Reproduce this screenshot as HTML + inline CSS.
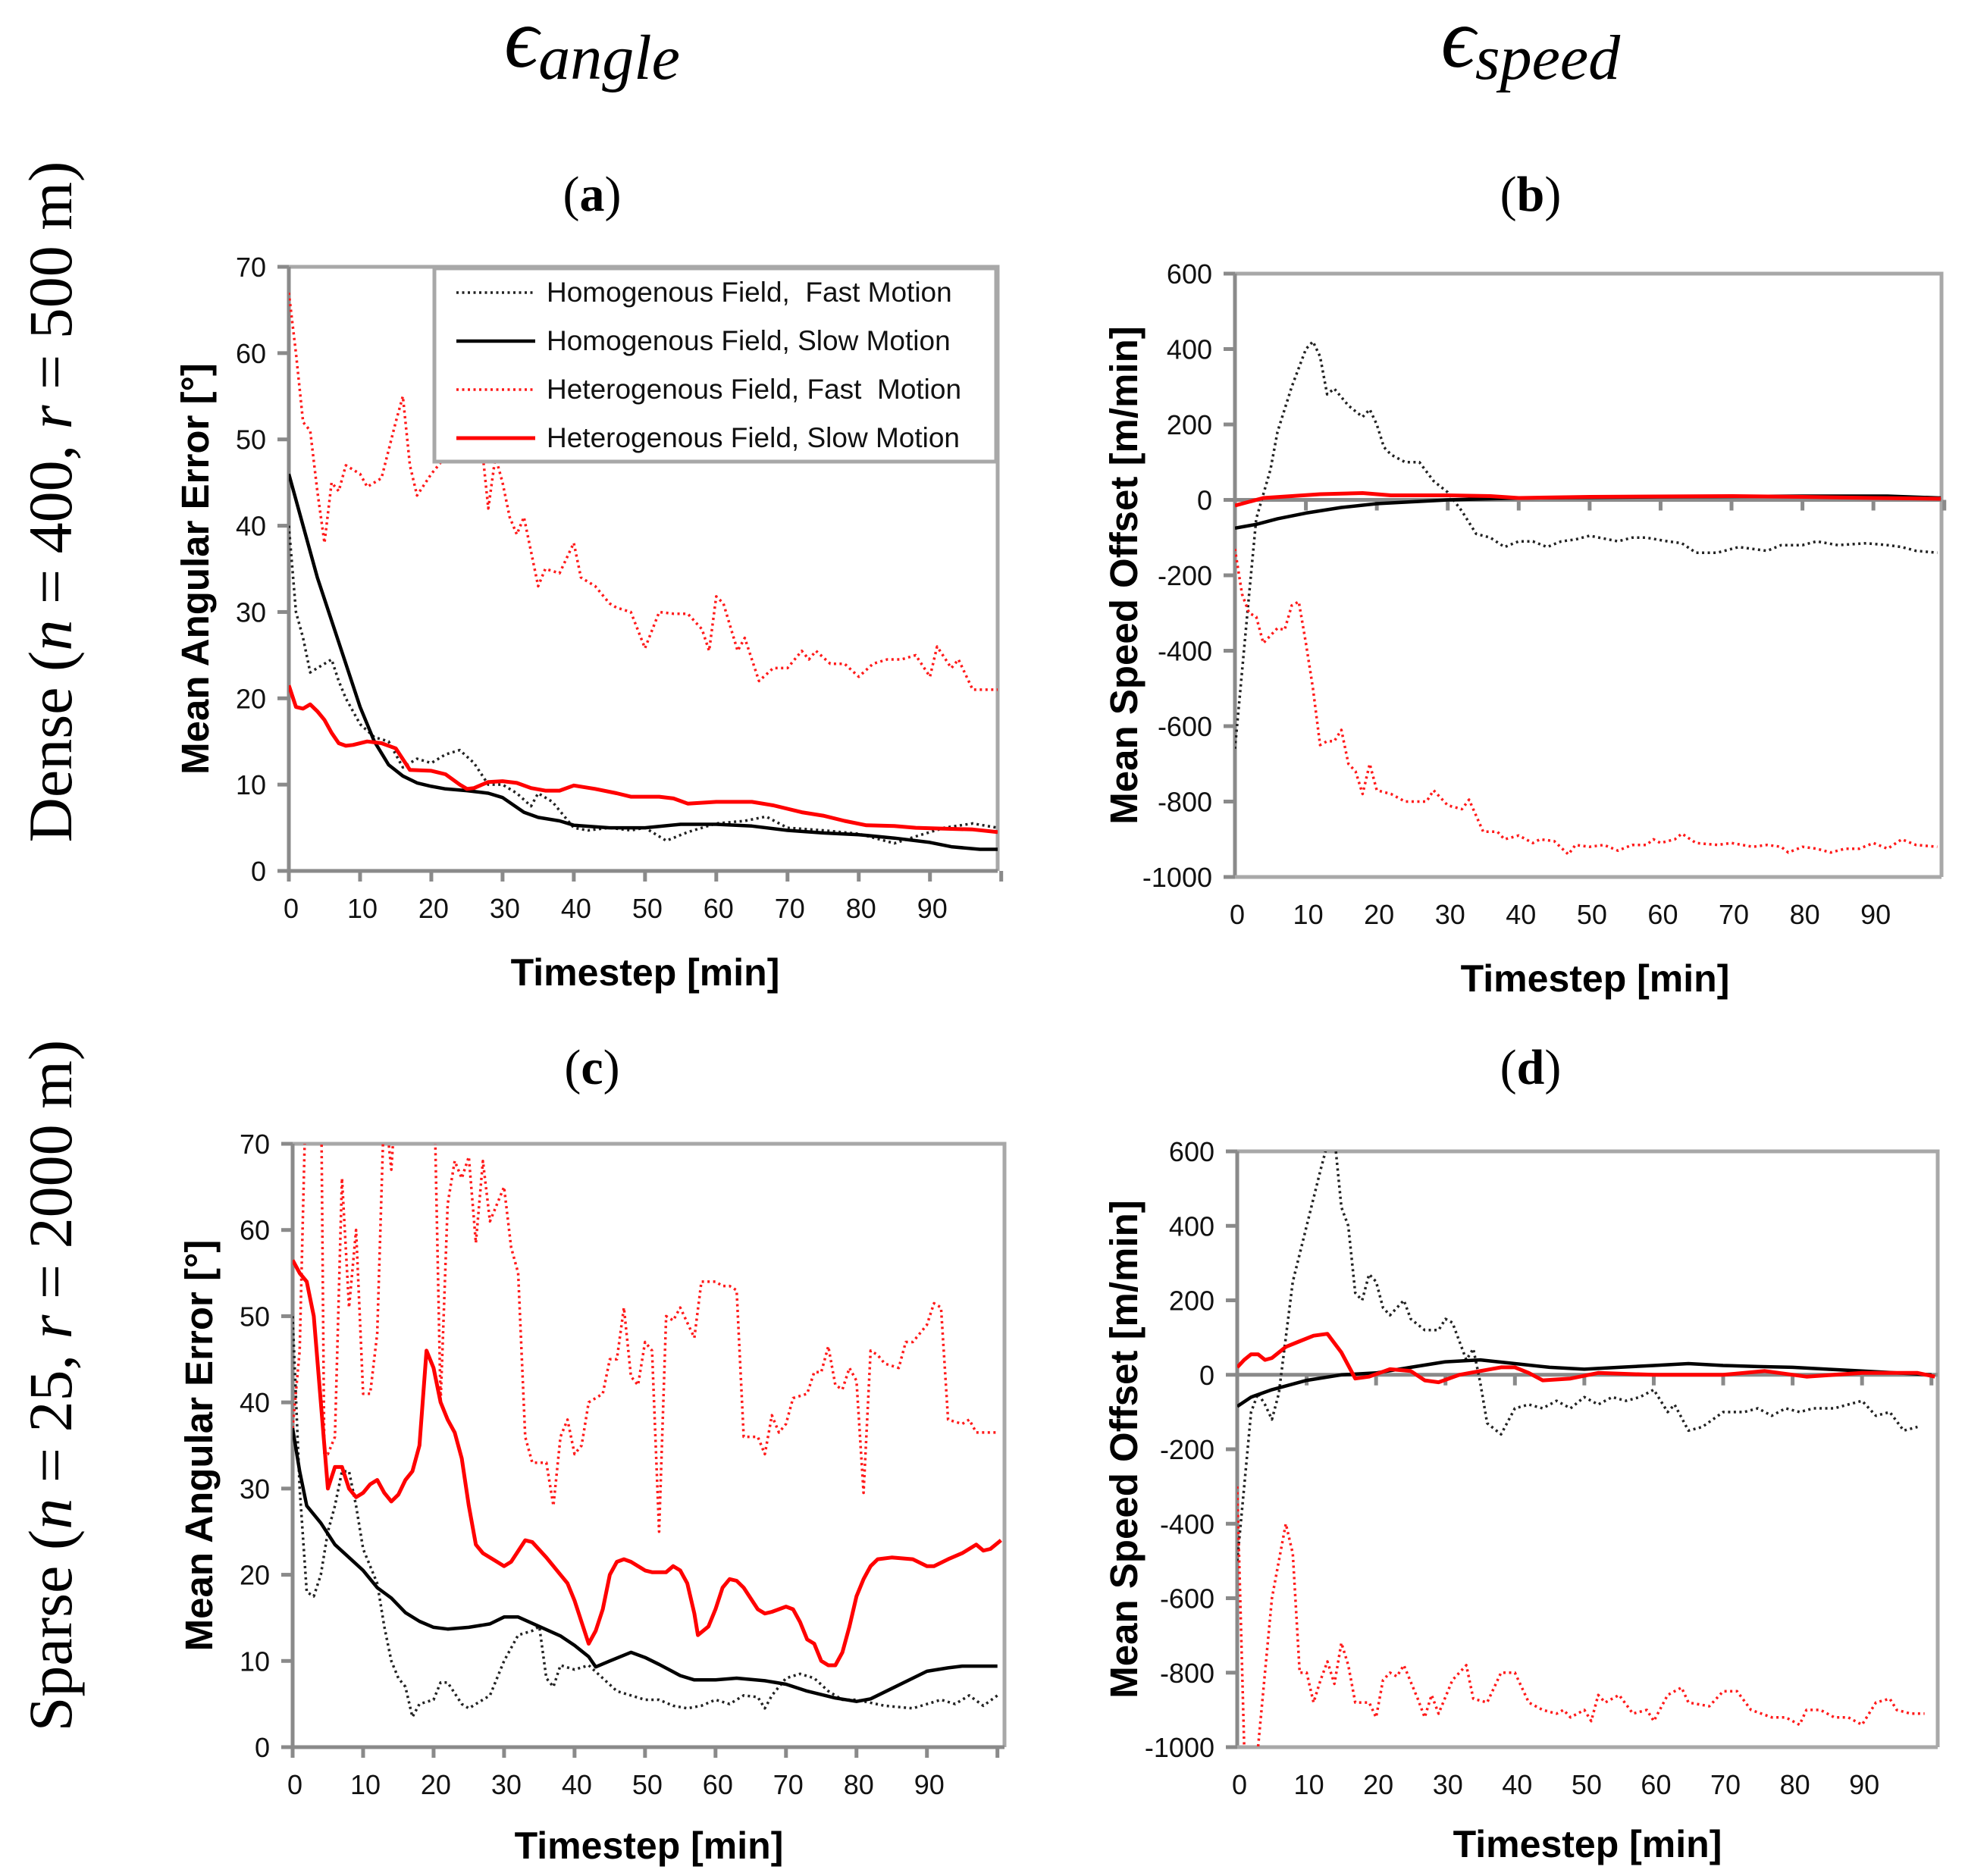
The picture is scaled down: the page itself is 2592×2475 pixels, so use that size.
<!DOCTYPE html>
<html><head><meta charset="utf-8"><style>
html,body{margin:0;padding:0;background:#fff;}
svg{display:block;}
text{font-family:"Liberation Sans",sans-serif;}
.serif{font-family:"Liberation Serif","DejaVu Serif",serif;}
</style></head><body>
<svg id="fig" width="2592" height="2475" viewBox="0 0 2592 2475" xmlns="http://www.w3.org/2000/svg">
<text class="serif" x="781" y="88" font-size="112" font-style="italic" text-anchor="middle">ϵ<tspan font-size="84" dy="16">angle</tspan></text>
<text class="serif" x="2019" y="88" font-size="112" font-style="italic" text-anchor="middle">ϵ<tspan font-size="84" dy="16">speed</tspan></text>
<text class="serif" x="781" y="278" font-size="66" text-anchor="middle">(<tspan font-weight="bold">a</tspan>)</text>
<text class="serif" x="2019" y="278" font-size="66" text-anchor="middle">(<tspan font-weight="bold">b</tspan>)</text>
<text class="serif" x="781" y="1430" font-size="66" text-anchor="middle">(<tspan font-weight="bold">c</tspan>)</text>
<text class="serif" x="2019" y="1430" font-size="66" text-anchor="middle">(<tspan font-weight="bold">d</tspan>)</text>
<text class="serif" transform="translate(94,662) rotate(-90)" font-size="82" text-anchor="middle">Dense (<tspan font-style="italic">n</tspan> = 400, <tspan font-style="italic">r</tspan> = 500 m)</text>
<text class="serif" transform="translate(94,1828) rotate(-90)" font-size="82" text-anchor="middle">Sparse (<tspan font-style="italic">n</tspan> = 25, <tspan font-style="italic">r</tspan> = 2000 m)</text>
<g id="panels"></g>
</svg>
<script>
// ---------- data ----------
// Panel (a)
const aHomFastX=[0,1,2,3,4,5,6,7,8,10,12,14,16,18,20,22,24,26,28,30,32,34,35,37,40,42,45,48,50,53,56,60,64,67,70,75,80,85,88,92,96,99.5];
const aHomFastY=[40,30,27,23,23.5,24,24.5,22,20,17,15.5,15,12,13,12.5,13.5,14,12.5,10,10,9,7.5,9,8,5,4.7,5,4.7,5,3.5,4.5,5.5,5.8,6.3,5,4.7,4.3,3.2,4,5,5.5,5];
const aHomSlowX=[0,2,4,6,8,10,12,14,16,18,20,22,25,28,30,33,35,38,40,45,50,55,60,65,70,75,80,85,90,93,97,99.5];
const aHomSlowY=[46,40,34,29,24,19,15,12.3,11,10.2,9.8,9.5,9.3,9,8.5,6.8,6.2,5.8,5.3,5,5,5.4,5.4,5.2,4.7,4.4,4.2,3.8,3.3,2.8,2.5,2.5];
const aHetFastX=[0,1,2,3,4,5,6,7,8,10,11,12,13,15,16,17,18,20,22,24,26,27,28,29,30,31,32,33,35,36,38,40,41,43,45,46,48,50,52,54,56,58,59,60,61,63,64,66,68,70,72,73,74,76,78,80,82,84,86,88,90,91,93,94,96,98,99.5];
const aHetFastY=[67,60,52,51,44,38,45,44,47,46,44.5,45,45.5,52,55,47,43.5,46,48,53,52,50,42,48,45,41,39,41,33,35,34.5,38,34,33,31,30.5,30,25.8,30,29.8,29.8,28,25.5,31.8,31,25.5,27,22,23.5,23.5,25.5,24.5,25.5,24,24,22.5,24,24.5,24.5,25,22.5,26,23.5,24.5,21,21,21];
const aHetSlowX=[0,1,2,3,4,5,6,7,8,9,11,13,15,17,20,22,24,25,26,28,30,32,34,36,38,40,43,46,48,52,54,56,60,65,68,72,75,78,81,85,88,92,96,99.5];
const aHetSlowY=[21.5,19,18.8,19.3,18.5,17.5,16,14.8,14.5,14.6,15,14.8,14.2,11.7,11.6,11.2,10,9.5,9.6,10.3,10.4,10.2,9.6,9.3,9.3,9.9,9.5,9,8.6,8.6,8.4,7.8,8,8,7.6,6.8,6.4,5.8,5.3,5.2,5,4.9,4.8,4.5];
// Panel (b)
const bHomFastX=[0,2,3,5,6,8,10,11,12,13,14,16,18,19,20,21,22,24,26,28,30,32,34,36,38,40,42,44,46,48,50,54,56,58,61,63,65,68,71,73,75,77,80,82,85,89,92,94,96,99];
const bHomFastY=[-660,-250,-50,80,180,300,400,420,380,280,295,250,220,240,200,140,120,100,100,50,20,-30,-90,-100,-125,-110,-110,-125,-110,-105,-95,-110,-100,-100,-110,-115,-140,-140,-125,-130,-135,-120,-120,-110,-120,-115,-120,-125,-135,-140];
const bHomSlowX=[0,3,6,10,15,20,25,30,40,60,80,92,99.5];
const bHomSlowY=[-75,-65,-50,-35,-20,-10,-5,0,5,8,10,10,5];
const bHetFastX=[0,1,2,3,4,6,7,8,9,10,11,12,13,14,15,16,17,18,19,20,22,24,27,28,30,32,33,35,37,38,40,42,43,45,47,48,50,52,54,56,58,59,60,62,63,65,68,70,73,75,77,78,80,82,84,86,88,90,92,94,96,99];
const bHetFastY=[-130,-250,-300,-310,-380,-340,-345,-280,-270,-380,-500,-650,-640,-640,-610,-700,-720,-780,-700,-770,-780,-800,-800,-770,-810,-820,-795,-880,-880,-900,-890,-910,-900,-905,-940,-915,-920,-915,-930,-915,-915,-900,-910,-900,-885,-910,-915,-910,-920,-915,-920,-935,-920,-925,-935,-925,-925,-910,-925,-900,-915,-920];
const bHetSlowX=[0,2,4,8,12,18,22,30,36,40,50,70,80,90,99.5];
const bHetSlowY=[-15,-5,5,10,15,18,12,12,10,5,8,10,8,5,3];
// Panel (c)
const cHomFastX=[0,1,2,3,4,5,6,7,8,9,10,12,13,14,15,16,17,18,20,21,22,24,25,26,28,30,32,34,35,36,37,38,40,42,44,46,48,50,52,54,56,58,60,62,64,66,67,68,70,72,74,76,78,80,84,88,92,94,96,98,100];
const cHomFastY=[50,30,18,17.5,20,25,28,32,32,28,23,19,14,10,8,7,3.5,5,5.5,7.5,7.5,5,4.5,5,6,10,13,13.5,14,8,7,9.5,9,9.5,8,6.5,6,5.5,5.5,4.8,4.5,4.8,5.5,5,6,5.8,4.5,6,8,8.5,8,6.5,5.5,5.5,4.8,4.5,5.5,5,6,4.8,6];
const cHomSlowX=[0,1,2,4,6,8,10,12,14,16,18,20,22,25,28,30,32,35,38,40,42,43,45,48,50,52,55,57,60,63,67,70,73,77,80,82,85,88,90,93,95,100];
const cHomSlowY=[37,32,28,26,23.5,22,20.5,18.5,17.3,15.6,14.6,13.9,13.7,13.9,14.3,15.1,15.1,14,12.9,11.8,10.5,9.3,10,11,10.4,9.6,8.3,7.8,7.8,8,7.7,7.3,6.5,5.7,5.3,5.6,6.8,8,8.8,9.2,9.4,9.4];
const cHetFastX=[0,1,2,3,4,4.5,5,6,7,8,9,10,11,12,13,14,15,20,21,22,23,24,25,26,27,28,30,31,32,33,34,35,36,37,38,39,40,41,42,44,45,46,47,48,49,50,51,52,53,54,55,57,58,60,61,62,63,64,66,67,68,69,70,71,73,74,75,76,77,78,79,80,81,82,83,84,86,87,88,90,91,92,93,95,96,97,100];
const cHetFastY=[37,46,80,90,80,34,34,36,66,51,60,41,41,48,75,67,80,80,40,63,68,66,68.5,58.5,68,61,65,58,55,36,33,33,33,28,36,38,34,35,40,41,45,45,51,43,42,47,46,25,50,49.5,51,47.5,54,54,53.5,53.5,53,36,36,34,38.5,36.5,37.5,40.5,41,43.5,43.5,46.5,42,41.5,44,42.5,29.5,46,45.5,44.5,44,47,47,49,51.5,51,38,37.5,38,36.5,36.5];
const cHetSlowX=[0,1,2,3,4,5,6,7,8,9,10,11,12,13,14,15,16,17,18,19,20,21,22,23,24,25,26,27,29,30,31,33,34,36,38,39,40,41,42,43,44,45,46,47,48,50,51,53,54,55,56,57,57.5,59,60,61,62,63,64,66,67,68,70,71,72,73,74,75,76,77,78,79,80,81,82,83,85,88,90,91,93,95,97,98,99,100.5];
const cHetSlowY=[56.5,55,54,50,40,30,32.5,32.5,30,29,29.5,30.5,31,29.5,28.5,29.3,31,32,35,46,44,40,38,36.5,33.5,28,23.5,22.5,21.5,21,21.5,24,23.8,22,20,19,17,14.5,12,13.5,16,20,21.5,21.8,21.5,20.5,20.3,20.3,21,20.5,19,15.5,13,14,16,18.5,19.5,19.3,18.5,16,15.5,15.7,16.3,16,14.5,12.5,12,10,9.5,9.5,11,14,17.5,19.5,21,21.8,22,21.8,21,21,21.8,22.5,23.5,22.8,23,24];
// Panel (d)
const dHomFastX=[0,1,2,3,4,5,6,7,8,10,12,13,14,15,16,17,18,19,20,21,22,24,25,27,29,30,31,33,34,35,36,38,40,42,44,46,48,50,52,54,56,58,60,62,63,65,67,70,73,75,77,79,81,83,86,88,90,92,94,96,98];
const dHomFastY=[-500,-300,-100,-50,-80,-120,-50,100,250,400,550,620,640,450,400,220,200,270,250,180,160,200,150,120,120,150,140,40,70,-20,-130,-160,-90,-80,-90,-70,-90,-60,-80,-60,-70,-60,-40,-100,-80,-150,-140,-100,-100,-90,-110,-90,-100,-90,-90,-80,-70,-110,-100,-150,-140];
const dHomSlowX=[0,2,5,10,15,20,25,30,35,40,45,50,55,60,65,70,75,80,85,90,95,100];
const dHomSlowY=[-85,-60,-40,-15,0,5,20,35,40,30,20,15,20,25,30,25,22,20,15,10,5,0];
const dHetFastX=[0,1,2,3,4,5,6,7,8,9,10,11,12,13,14,15,16,17,19,20,21,22,23,24,26,27,28,29,31,32,33,34,36,38,40,42,44,46,47,48,50,51,52,53,55,57,59,60,62,64,65,68,70,72,74,77,79,81,82,84,86,88,90,92,94,95,97,99];
const dHetFastY=[-300,-1000,-1050,-1000,-800,-600,-500,-400,-480,-800,-800,-880,-820,-770,-830,-720,-780,-880,-880,-920,-820,-800,-810,-780,-870,-920,-860,-910,-820,-800,-780,-870,-880,-800,-800,-880,-900,-910,-900,-920,-900,-930,-860,-880,-860,-910,-900,-930,-860,-840,-880,-890,-850,-850,-900,-920,-920,-940,-900,-900,-920,-920,-940,-880,-870,-900,-910,-910];
const dHetSlowX=[0,1,2,3,4,5,7,9,11,13,15,17,19,22,25,27,29,32,35,38,40,42,44,48,52,60,70,76,82,90,98,100.5];
const dHetSlowY=[20,40,55,55,40,45,75,90,105,110,60,-10,-5,15,10,-15,-20,0,10,20,20,5,-15,-10,5,0,0,10,-5,5,5,-5];
// tick labels
const angleTicks=[0,10,20,30,40,50,60,70];
const speedTicks=[-1000,-800,-600,-400,-200,0,200,400,600];
const timeTicks=[0,10,20,30,40,50,60,70,80,90];
const legendLabels=["Homogenous Field,  Fast Motion","Homogenous Field, Slow Motion","Heterogenous Field, Fast  Motion","Heterogenous Field, Slow Motion"];

// ---------- drawing ----------
const NS="http://www.w3.org/2000/svg";
const root=document.getElementById('panels');
function mk(tag,attrs,parent){const e=document.createElementNS(NS,tag);for(const k in attrs)e.setAttribute(k,attrs[k]);(parent||root).appendChild(e);return e;}

const styles={
 homFast:{stroke:'#222',w:3.5,dash:'3 4.5'},
 homSlow:{stroke:'#000',w:4.5,dash:null},
 hetFast:{stroke:'#ff1a1a',w:3.5,dash:'3 4.5'},
 hetSlow:{stroke:'#ff0000',w:5,dash:null}
};

function panel(id,box,xmax,ymin,ymax,yticks,zeroAxis,series,ytitle,ytx,xtitleX,xtitleY){
  const [L,T,R,B]=box;
  const g=mk('g',{});
  
  
  const xs=v=>L+(v/xmax)*(R-L);
  const ys=v=>B-(v-ymin)/(ymax-ymin)*(B-T);
  const cp=mk('clipPath',{id:'clip-'+id},g);
  mk('rect',{x:L,y:T,width:R-L,height:B-T},cp);
  const fr=mk('path',{d:`M${L},${T}H${R}V${B}`,fill:'none',stroke:'#a8a8a8','stroke-width':5},g);
  
  
  const yax=mk('line',{x1:L,y1:T,x2:L,y2:B,stroke:'#8a8a8a','stroke-width':5},g);
  
  
  const xAxisY=zeroAxis?ys(0):B;
  const xax=mk('line',{x1:L,y1:xAxisY,x2:R,y2:xAxisY,stroke:'#8a8a8a','stroke-width':5},g);
  
  
  if(zeroAxis){const bl=mk('line',{x1:L,y1:B,x2:R,y2:B,stroke:'#a8a8a8','stroke-width':5},g);
    
    }
  yticks.forEach(v=>{
    mk('line',{x1:L-15,y1:ys(v),x2:L,y2:ys(v),stroke:'#8a8a8a','stroke-width':5},g);
    const t=mk('text',{x:L-30,y:ys(v)+13,'font-size':36,'text-anchor':'end',fill:'#111'},g);
    t.textContent=v;
    
    
  });
  const tk=[...timeTicks,100];
  tk.forEach(v=>{ if(v>xmax+0.5) return;
    mk('line',{x1:xs(v),y1:xAxisY,x2:xs(v),y2:xAxisY+14,stroke:'#8a8a8a','stroke-width':5},g);});
  timeTicks.forEach(v=>{
    const t=mk('text',{x:xs(v)+3,y:B+62,'font-size':36,'text-anchor':'middle',fill:'#111'},g);
    t.textContent=v;
    
    
  });
  const lg=mk('g',{'clip-path':`url(#clip-${id})`},g);
  series.forEach(s=>{
    const st=styles[s.key];
    const d=s.x.map((xv,i)=>(i?'L':'M')+xs(xv).toFixed(1)+','+ys(s.y[i]).toFixed(1)).join('');
    const p=mk('path',{d:d,fill:'none',stroke:st.stroke,'stroke-width':st.w,'stroke-linejoin':'round'},lg);
    if(st.dash)p.setAttribute('stroke-dasharray',st.dash);
    
    
  });
  const yt=mk('text',{transform:`translate(${ytx},${(T+B)/2}) rotate(-90)`,'font-size':51,'font-weight':'bold','text-anchor':'middle'},g);
  yt.textContent=ytitle;
  
  
  const xt=mk('text',{x:xtitleX,y:xtitleY,'font-size':50,'font-weight':'bold','text-anchor':'middle'},g);
  xt.textContent='Timestep [min]';
  
  
  return g;
}

panel('a',[381,352,1316,1149],99.5,0,70,angleTicks,false,[
 {key:'hetFast',x:aHetFastX,y:aHetFastY},{key:'homFast',x:aHomFastX,y:aHomFastY},
 {key:'homSlow',x:aHomSlowX,y:aHomSlowY},{key:'hetSlow',x:aHetSlowX,y:aHetSlowY}],
 'Mean Angular Error [°]',275,851,1300);
panel('b',[1629,361,2561,1157],99.6,-1000,600,speedTicks,true,[
 {key:'homFast',x:bHomFastX,y:bHomFastY},{key:'hetFast',x:bHetFastX,y:bHetFastY},
 {key:'homSlow',x:bHomSlowX,y:bHomSlowY},{key:'hetSlow',x:bHetSlowX,y:bHetSlowY}],
 'Mean Speed Offset [m/min]',1500,2104,1308);
panel('c',[386,1509,1325,2305],101,0,70,angleTicks,false,[
 {key:'hetFast',x:cHetFastX,y:cHetFastY},{key:'homFast',x:cHomFastX,y:cHomFastY},
 {key:'homSlow',x:cHomSlowX,y:cHomSlowY},{key:'hetSlow',x:cHetSlowX,y:cHetSlowY}],
 'Mean Angular Error [°]',280,856,2452);
panel('d',[1632,1519,2556,2305],100.9,-1000,600,speedTicks,true,[
 {key:'homFast',x:dHomFastX,y:dHomFastY},{key:'hetFast',x:dHetFastX,y:dHetFastY},
 {key:'homSlow',x:dHomSlowX,y:dHomSlowY},{key:'hetSlow',x:dHetSlowX,y:dHetSlowY}],
 'Mean Speed Offset [m/min]',1500,2094,2450);

// legend in panel (a)
const lgd=mk('g',{});


mk('rect',{x:573,y:354,width:741,height:255,fill:'#fff',stroke:'#a8a8a8','stroke-width':5},lgd);
const keys=['homFast','homSlow','hetFast','hetSlow'];
keys.forEach((k,i)=>{
  const yy=386+i*64;
  const st=styles[k];
  const ln=mk('line',{x1:602,y1:yy,x2:706,y2:yy,stroke:st.stroke,'stroke-width':st.w},lgd);
  if(st.dash)ln.setAttribute('stroke-dasharray',st.dash);
  
  
  const t=mk('text',{x:721,y:yy+12,'font-size':37,fill:'#111'},lgd);
  t.setAttribute('xml:space','preserve');
  t.style.whiteSpace='pre';
  t.textContent=legendLabels[i];
  
  
});
</script>
</body></html>
